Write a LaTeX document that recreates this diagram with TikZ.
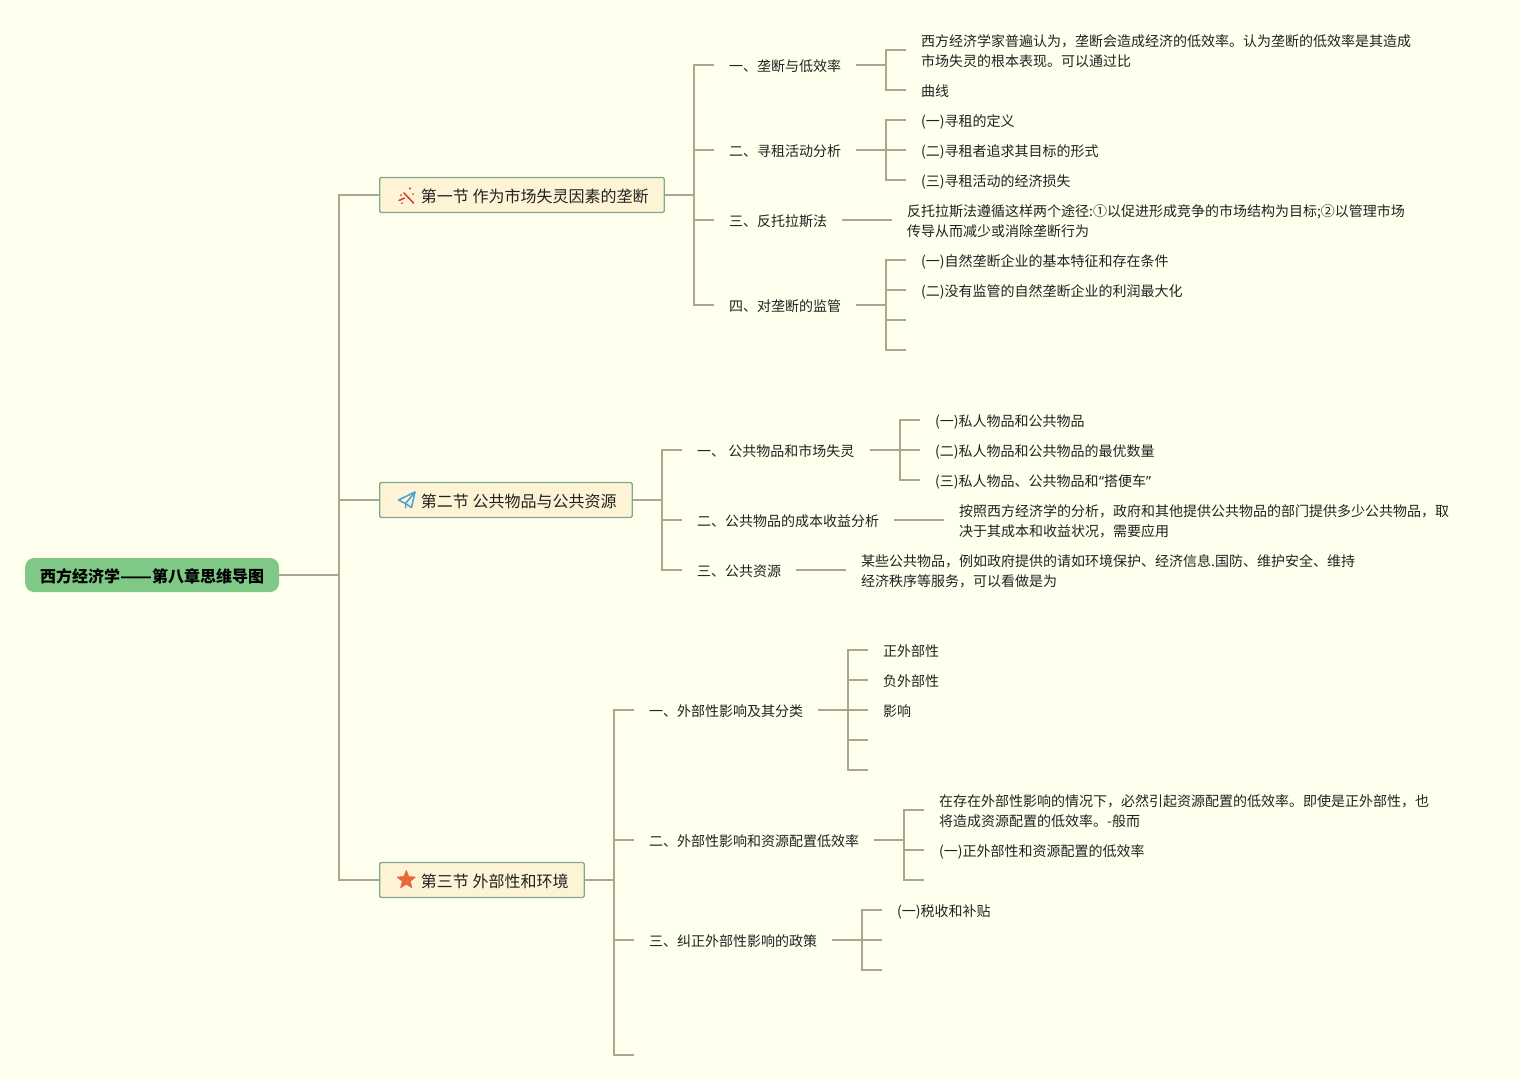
\documentclass[tikz,border=0pt]{standalone}
\usepackage{fontspec}
\setmainfont{Noto Sans CJK SC}
\newfontfamily\qfont{Noto Sans}
\usetikzlibrary{shapes.geometric}
\definecolor{pagebg}{HTML}{FEFFEC}
\definecolor{linec}{HTML}{A8A88F}
\definecolor{rootc}{HTML}{7FC885}
\definecolor{secfill}{HTML}{FFF3D6}
\definecolor{secline}{HTML}{7FA890}
\definecolor{txt}{HTML}{222222}
\definecolor{wandc}{HTML}{D8392B}
\definecolor{planec}{HTML}{45A2D6}
\definecolor{starc}{HTML}{E5693A}
\newcommand\ltx[1]{\rule{0pt}{13.6pt}\smash{#1}}
\newcommand\htx[1]{\rule{0pt}{14.2pt}\smash{#1}}
\newcommand\brk[3]{\draw[conn] (#1.east) -- (#2 |- #1.east) |- (#3.west);}
\tikzset{
  conn/.style={draw=linec,line width=1.9pt},
  leaf/.style={anchor=west,inner xsep=15pt,inner ysep=0pt,align=left,text=txt,
    font=\fontsize{14}{20}\selectfont},
  sec/.style={anchor=west,draw=secline,line width=1.3pt,fill=secfill,rounded corners=1.5pt,
    minimum height=35pt,inner xsep=15pt,inner ysep=0pt,text=txt,font=\fontsize{16}{20}\selectfont},
  rootbox/.style={anchor=west,fill=rootc,rounded corners=9pt,minimum height=34pt,
    inner xsep=15pt,inner ysep=0pt,text=black,font=\fontsize{16}{20}\bfseries\selectfont},
  icon/.style={line width=1.5pt,line join=round}
}
\begin{document}
\begin{tikzpicture}[x=1pt,y=-1pt]
\fill[pagebg] (0,0) rectangle (1519,1080);
\useasboundingbox (0,0) rectangle (1519,1080);
% root and sections
\node[rootbox] (root) at (25,575) {\htx{西方经济学\scalebox{1.16}[1]{——}第八章思维导图}};
\node[sec] (s1) at (379,195) {\hspace*{26.3pt}\htx{第一节 作为市场失灵因素的垄断}\hspace*{.7pt}};
\node[sec] (s2) at (379,500) {\hspace*{26.3pt}\htx{第二节 公共物品与公共资源}\hspace*{.7pt}};
\node[sec] (s3) at (379,880) {\hspace*{26.3pt}\htx{第三节 外部性和环境}\hspace*{.7pt}};
% spine positions
\coordinate (x0) at (339,0);
\coordinate (x1) at (694,0);
\coordinate (x2) at (662,0);
\coordinate (x3) at (614,0);
\coordinate (x11) at (886,0);
\coordinate (x21) at (900,0);
\coordinate (x31) at (848,0);
\coordinate (x32) at (904,0);
\coordinate (x33) at (862,0);
% section 1
\node[leaf] (a1) at (714,65) {\ltx{一、垄断与低效率}};
\node[leaf] (a2) at (714,150) {\ltx{二、寻租活动分析}};
\node[leaf] (a3) at (714,220) {\ltx{三、反托拉斯法}};
\node[leaf] (a4) at (714,305) {\ltx{四、对垄断的监管}};
\node[leaf] (a11) at (906,50) {\ltx{西方经济学家普遍认为，垄断会造成经济的低效率。认为垄断的低效率是其造成}\\\ltx{市场失灵的根本表现。可以通过比}};
\node[leaf] (a12) at (906,90) {\ltx{曲线}};
\node[leaf] (a21) at (906,120) {\ltx{(一)寻租的定义}};
\node[leaf] (a22) at (906,150) {\ltx{(二)寻租者追求其目标的形式}};
\node[leaf] (a23) at (906,180) {\ltx{(三)寻租活动的经济损失}};
\node[leaf] (a31) at (892,220) {\ltx{反托拉斯法遵循这样两个途径:①以促进形成竞争的市场结构为目标;②以管理市场}\\\ltx{传导从而减少或消除垄断行为}};
\node[leaf] (a41) at (906,260) {\ltx{(一)自然垄断企业的基本特征和存在条件}};
\node[leaf] (a42) at (906,290) {\ltx{(二)没有监管的自然垄断企业的利润最大化}};
\coordinate (a43) at (906,320);
\coordinate (a44) at (906,350);
% section 2
\node[leaf] (b1) at (682,450) {\ltx{一、 公共物品和市场失灵}};
\node[leaf] (b2) at (682,520) {\ltx{二、公共物品的成本收益分析}};
\node[leaf] (b3) at (682,570) {\ltx{三、公共资源}};
\node[leaf] (b11) at (920,420) {\ltx{(一)私人物品和公共物品}};
\node[leaf] (b12) at (920,450) {\ltx{(二)私人物品和公共物品的最优数量}};
\node[leaf] (b13) at (920,480) {\ltx{(三)私人物品、公共物品和\kern.5pt{\qfont “}搭便车{\qfont ”}\kern1pt}};
\node[leaf] (b21) at (944,520) {\ltx{按照西方经济学的分析，政府和其他提供公共物品的部门提供多少公共物品，取}\\\ltx{决于其成本和收益状况，需要应用}};
\node[leaf] (b31) at (846,570) {\ltx{某些公共物品，例如政府提供的请如环境保护、经济信息.国防、维护安全、维持}\\\ltx{经济秩序等服务，可以看做是为}};
% section 3
\node[leaf] (c1) at (634,710) {\ltx{一、外部性影响及其分类}};
\node[leaf] (c2) at (634,840) {\ltx{二、外部性影响和资源配置低效率}};
\node[leaf] (c3) at (634,940) {\ltx{三、纠正外部性影响的政策}};
\coordinate (c4) at (634,1055);
\node[leaf] (c11) at (868,650) {\ltx{正外部性}};
\node[leaf] (c12) at (868,680) {\ltx{负外部性}};
\node[leaf] (c13) at (868,710) {\ltx{影响}};
\coordinate (c14) at (868,740);
\coordinate (c15) at (868,770);
\node[leaf] (c21) at (924,810) {\ltx{在存在外部性影响的情况下，必然引起资源配置的低效率。即使是正外部性，也}\\\ltx{将造成资源配置的低效率。-般而}};
\node[leaf] (c22) at (924,850) {\ltx{(一)正外部性和资源配置的低效率}};
\coordinate (c23) at (924,880);
\node[leaf] (c31) at (882,910) {\ltx{(一)税收和补贴}};
\coordinate (c32) at (882,940);
\coordinate (c33) at (882,970);
% connectors
\brk{root}{x0}{s1}\brk{root}{x0}{s2}\brk{root}{x0}{s3}
\brk{s1}{x1}{a1}\brk{s1}{x1}{a2}\brk{s1}{x1}{a3}\brk{s1}{x1}{a4}
\brk{a1}{x11}{a11}\brk{a1}{x11}{a12}
\brk{a2}{x11}{a21}\brk{a2}{x11}{a22}\brk{a2}{x11}{a23}
\draw[conn] (a3.east) -- (a31.west);
\brk{a4}{x11}{a41}\brk{a4}{x11}{a42}\brk{a4}{x11}{a43}\brk{a4}{x11}{a44}
\brk{s2}{x2}{b1}\brk{s2}{x2}{b2}\brk{s2}{x2}{b3}
\brk{b1}{x21}{b11}\brk{b1}{x21}{b12}\brk{b1}{x21}{b13}
\draw[conn] (b2.east) -- (b21.west);
\draw[conn] (b3.east) -- (b31.west);
\brk{s3}{x3}{c1}\brk{s3}{x3}{c2}\brk{s3}{x3}{c3}\brk{s3}{x3}{c4}
\brk{c1}{x31}{c11}\brk{c1}{x31}{c12}\brk{c1}{x31}{c13}\brk{c1}{x31}{c14}\brk{c1}{x31}{c15}
\brk{c2}{x32}{c21}\brk{c2}{x32}{c22}\brk{c2}{x32}{c23}
\brk{c3}{x33}{c31}\brk{c3}{x33}{c32}\brk{c3}{x33}{c33}
% icons
\draw[icon,draw=wandc,line cap=round] (404,193) -- (413.5,203);
\draw[icon,draw=wandc,line cap=round] (399,200.5) -- (404.5,198);
\fill[wandc] (410,188.5) circle (1.2pt) (413,194) circle (1pt) (401,195) circle (1pt) (402,203) circle (1pt);
\draw[icon,draw=planec] (415,492) -- (398.5,500) -- (405.5,503.5) -- (411.5,507.5) -- cycle;
\draw[icon,draw=planec] (415,492) -- (405.5,503.5) -- (405.5,508);
\node[star,star points=5,star point ratio=2.3,fill=starc,draw=starc,line width=.8pt,line join=round,minimum size=19pt,inner sep=0pt] (st) at (406.3,880) {};
\end{tikzpicture}
\end{document}
